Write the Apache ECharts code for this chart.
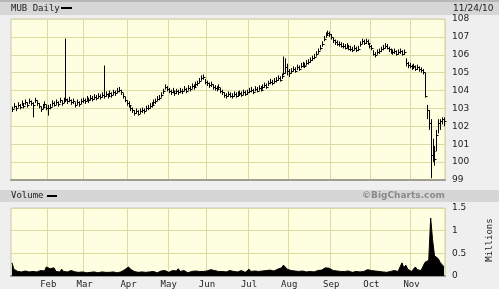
<!DOCTYPE html>
<html><head><meta charset="utf-8">
<script src="https://cdn.jsdelivr.net/npm/echarts@6/dist/echarts.min.js"></script>
<style>html,body{margin:0;padding:0;background:#efefef;}#c{width:499px;height:289px;}</style>
</head><body><div id="c"></div>
<script>
// ---- Data ----
const title = 'MUB Daily';
const dateText = '11/24/10';
const monthLabels = ['Jan','Feb','Mar','Apr','May','Jun','Jul','Aug','Sep','Oct','Nov'];
const startDate = '2010-01-04';
const endDate = '2010-11-24';
const holidays = ['2010-01-18','2010-02-15','2010-04-02','2010-05-31','2010-07-05','2010-09-06'];
const priceTicks = [99,100,101,102,103,104,105,106,107,108];
const volumeTicks = [0,0.5,1,1.5];

// rows: [low, high, close]
const pJan = [[102.8,103.1,102.95],[103.0,103.3,103.15],[102.85,103.15,103.0],[103.05,103.35,103.2],[102.95,103.25,103.1],[103.15,103.45,103.3],[103.0,103.3,103.15],[103.2,103.5,103.35],[103.05,103.35,103.2],[103.25,103.55,103.4],[103.15,103.45,103.3],[102.5,103.35,103.2],[103.3,103.6,103.45],[103.15,103.45,103.3],[103.0,103.3,103.15],[102.8,103.1,102.95],[102.95,103.25,103.1],[103.1,103.4,103.25],[102.9,103.2,103.05]];
const pFeb = [[102.6,103.2,103.05],[102.95,103.25,103.1],[103.1,103.45,103.3],[103.1,103.4,103.2],[103.2,103.5,103.35],[103.1,103.4,103.25],[103.3,103.6,103.45],[103.15,103.45,103.3],[103.3,103.6,103.45],[103.35,106.9,103.55],[103.25,103.55,103.4],[103.35,103.65,103.5],[103.2,103.5,103.35],[103.25,103.55,103.4],[103.05,103.35,103.2],[103.2,103.5,103.35],[103.1,103.4,103.25],[103.25,103.55,103.4],[103.3,103.6,103.45]];
const pMar = [[103.25,103.55,103.4],[103.4,103.7,103.55],[103.3,103.6,103.45],[103.45,103.75,103.6],[103.4,103.7,103.55],[103.5,103.8,103.65],[103.45,103.75,103.6],[103.55,103.85,103.7],[103.5,103.8,103.65],[103.6,103.9,103.75],[103.55,105.4,103.7],[103.65,103.95,103.8],[103.55,103.85,103.7],[103.7,104.0,103.85],[103.6,103.9,103.75],[103.75,104.05,103.9],[103.7,104.0,103.85],[103.85,104.15,104.0],[103.9,104.2,104.05],[103.75,104.05,103.9],[103.55,103.85,103.7],[103.35,103.65,103.5],[103.15,103.45,103.3]];
const pApr = [[103.05,103.4,103.2],[102.85,103.15,103.0],[102.75,103.05,102.9],[102.6,102.9,102.75],[102.7,103.0,102.85],[102.6,102.9,102.7],[102.7,103.0,102.85],[102.75,103.05,102.9],[102.7,103.0,102.85],[102.85,103.15,103.0],[102.9,103.2,103.05],[103.0,103.3,103.15],[103.05,103.35,103.2],[103.2,103.5,103.35],[103.25,103.55,103.4],[103.4,103.7,103.55],[103.45,103.75,103.6],[103.6,103.9,103.75],[103.8,104.1,103.95],[104.05,104.35,104.2],[103.95,104.25,104.1]];
const pMay = [[103.85,104.15,104.0],[103.75,104.05,103.9],[103.85,104.15,104.0],[103.7,104.0,103.85],[103.8,104.1,103.95],[103.75,104.05,103.9],[103.85,104.15,104.0],[103.8,104.1,103.95],[103.95,104.25,104.1],[103.85,104.15,104.0],[104.0,104.3,104.15],[103.95,104.25,104.1],[104.1,104.4,104.25],[104.05,104.35,104.2],[104.2,104.5,104.35],[104.25,104.55,104.4],[104.4,104.7,104.55],[104.55,104.85,104.7],[104.6,104.9,104.75],[104.35,104.65,104.5]];
const pJun = [[104.25,104.55,104.4],[104.15,104.45,104.3],[104.2,104.5,104.35],[104.05,104.35,104.2],[104.0,104.3,104.15],[103.95,104.25,104.1],[104.05,104.35,104.2],[103.85,104.15,104.0],[103.75,104.05,103.9],[103.6,103.9,103.75],[103.55,103.85,103.7],[103.65,103.95,103.8],[103.6,103.9,103.7],[103.55,103.85,103.7],[103.65,103.95,103.8],[103.6,103.9,103.7],[103.65,103.95,103.8],[103.7,104.0,103.85],[103.65,103.95,103.75],[103.75,104.05,103.9],[103.7,104.0,103.8],[103.75,104.05,103.9]];
const pJul = [[103.85,104.15,104.0],[103.9,104.2,104.05],[103.8,104.1,103.9],[103.95,104.25,104.1],[103.9,104.2,104.0],[104.0,104.3,104.15],[103.95,104.25,104.05],[104.05,104.35,104.2],[104.15,104.45,104.3],[104.1,104.4,104.2],[104.25,104.55,104.4],[104.35,104.65,104.5],[104.3,104.6,104.4],[104.4,104.7,104.55],[104.45,104.75,104.6],[104.55,104.85,104.7],[104.5,104.8,104.6],[104.65,104.95,104.8],[104.85,105.9,105.0],[104.95,105.8,105.3],[104.85,105.5,105.1]];
const pAug = [[104.75,105.2,105.0],[104.95,105.25,105.1],[105.05,105.35,105.2],[105.0,105.3,105.1],[105.15,105.45,105.3],[105.1,105.4,105.2],[105.25,105.55,105.4],[105.3,105.6,105.45],[105.25,105.55,105.35],[105.4,105.7,105.55],[105.45,105.75,105.6],[105.55,105.85,105.7],[105.65,105.95,105.8],[105.75,106.05,105.9],[105.9,106.2,106.05],[106.05,106.35,106.2],[106.25,106.55,106.4],[106.45,106.75,106.6],[106.75,107.05,106.9],[106.95,107.25,107.1],[107.05,107.35,107.2],[107.0,107.3,107.15]];
const pSep = [[106.85,107.15,107.0],[106.65,106.95,106.8],[106.55,106.85,106.7],[106.5,106.8,106.6],[106.45,106.75,106.6],[106.4,106.7,106.5],[106.35,106.65,106.5],[106.3,106.6,106.4],[106.35,106.65,106.5],[106.25,106.55,106.35],[106.2,106.5,106.35],[106.15,106.45,106.25],[106.25,106.55,106.4],[106.15,106.45,106.25],[106.2,106.5,106.35],[106.45,106.75,106.6],[106.6,106.9,106.75],[106.55,106.85,106.65],[106.6,106.9,106.75],[106.55,106.85,106.65],[106.35,106.65,106.5]];
const pOct = [[106.25,106.55,106.4],[105.95,106.25,106.05],[105.85,106.15,106.0],[106.0,106.3,106.15],[106.05,106.35,106.2],[106.15,106.45,106.3],[106.25,106.55,106.4],[106.35,106.65,106.5],[106.3,106.6,106.4],[106.15,106.45,106.3],[106.05,106.35,106.15],[106.0,106.3,106.15],[106.05,106.35,106.2],[105.95,106.25,106.05],[106.0,106.3,106.15],[106.05,106.35,106.2],[105.95,106.25,106.05],[106.0,106.3,106.15],[105.35,105.8,105.55],[105.25,105.6,105.45],[105.25,105.55,105.4]];
const pNov = [[105.15,105.45,105.3],[105.2,105.5,105.35],[105.1,105.4,105.2],[105.15,105.45,105.3],[105.05,105.35,105.2],[105.0,105.3,105.15],[104.9,105.2,105.05],[103.6,105.0,103.7],[102.4,103.2,102.9],[101.8,102.9,102.2],[99.1,102.4,100.4],[100.0,101.3,100.6],[99.8,100.9,100.2],[100.6,101.8,101.5],[101.6,102.4,102.2],[101.8,102.4,102.3],[102.1,102.5,102.4],[102.0,102.5,102.3]];

// volume in millions
const vJan = [0.29,0.15,0.12,0.1,0.14,0.09,0.1,0.11,0.08,0.09,0.12,0.1,0.08,0.09,0.1,0.12,0.09,0.11,0.2];
const vFeb = [0.24,0.16,0.12,0.18,0.1,0.11,0.09,0.15,0.1,0.14,0.09,0.08,0.12,0.1,0.09,0.13,0.08,0.1,0.09];
const vMar = [0.08,0.07,0.06,0.08,0.07,0.09,0.06,0.07,0.08,0.09,0.07,0.08,0.1,0.08,0.07,0.09,0.08,0.07,0.1,0.09,0.12,0.14,0.13];
const vApr = [0.2,0.15,0.12,0.1,0.09,0.08,0.1,0.09,0.11,0.08,0.07,0.09,0.08,0.1,0.08,0.07,0.09,0.11,0.1,0.12,0.09];
const vMay = [0.08,0.1,0.12,0.09,0.11,0.16,0.1,0.09,0.12,0.08,0.07,0.09,0.1,0.08,0.11,0.09,0.1,0.12,0.1,0.09];
const vJun = [0.11,0.09,0.14,0.1,0.12,0.09,0.1,0.08,0.1,0.11,0.09,0.1,0.12,0.09,0.1,0.08,0.09,0.1,0.12,0.09,0.08,0.1];
const vJul = [0.15,0.1,0.09,0.11,0.08,0.1,0.09,0.11,0.1,0.12,0.1,0.13,0.1,0.11,0.12,0.15,0.14,0.18,0.24,0.2,0.15];
const vAug = [0.14,0.12,0.1,0.11,0.12,0.1,0.09,0.11,0.1,0.09,0.12,0.1,0.11,0.09,0.1,0.12,0.14,0.13,0.15,0.18,0.22,0.17];
const vSep = [0.14,0.12,0.1,0.11,0.09,0.1,0.12,0.1,0.09,0.11,0.1,0.08,0.09,0.1,0.11,0.09,0.12,0.1,0.11,0.14,0.17];
const vOct = [0.12,0.1,0.11,0.09,0.1,0.08,0.09,0.1,0.08,0.09,0.1,0.08,0.12,0.15,0.1,0.2,0.29,0.18,0.24,0.15,0.12];
const vNov = [0.1,0.12,0.2,0.14,0.1,0.12,0.16,0.3,0.28,0.35,1.28,0.8,0.45,0.42,0.38,0.3,0.25,0.2];

// ---- Build ----
const priceRows = [].concat(pJan,pFeb,pMar,pApr,pMay,pJun,pJul,pAug,pSep,pOct,pNov);
const volume = [].concat(vJan,vFeb,vMar,vApr,vMay,vJun,vJul,vAug,vSep,vOct,vNov);

const dates = [];
(function(){
  let d = new Date(startDate + 'T00:00:00Z');
  const end = new Date(endDate + 'T00:00:00Z');
  while (d <= end) {
    const s = d.toISOString().slice(0,10);
    const wd = d.getUTCDay();
    if (wd !== 0 && wd !== 6 && holidays.indexOf(s) < 0) dates.push(s);
    d = new Date(d.getTime() + 86400000);
  }
})();
const monthStart = dates.map((s,i) => i > 0 && s.slice(5,7) !== dates[i-1].slice(5,7));
const priceData = priceRows.map((r,i) => [i, r[0], r[1], r[2]]);

const gridColor = '#dedaa4';
const plotBg = '#fefee1';
const axisFont = 'DejaVu Sans';
const monoFont = 'DejaVu Sans Mono';

const chart = echarts.init(document.getElementById('c'), null, {renderer:'canvas'});
chart.setOption({
  backgroundColor: '#efefef',
  animation: false,
  graphic: [
    {type:'rect', shape:{x:0,y:0,width:499,height:2}, style:{fill:'#b8b8b8'}, silent:true},
    {type:'rect', shape:{x:0,y:2,width:499,height:13}, style:{fill:'#d6d6d6'}, silent:true},
    {type:'text', x:11, y:9, style:{text:title, font:'9px "DejaVu Sans Mono"', fill:'#222', verticalAlign:'middle'}},
    {type:'rect', shape:{x:61,y:7,width:11,height:2}, style:{fill:'#000'}},
    {type:'text', x:453, y:9, style:{text:dateText, font:'9px "DejaVu Sans"', fill:'#222', verticalAlign:'middle'}},
    {type:'rect', shape:{x:0,y:190,width:499,height:12}, style:{fill:'#d6d6d6'}, silent:true},
    {type:'text', x:11, y:196, style:{text:'Volume', font:'9px "DejaVu Sans Mono"', fill:'#222', verticalAlign:'middle'}},
    {type:'rect', shape:{x:47,y:195,width:10,height:2}, style:{fill:'#000'}},
    {type:'text', x:445, y:196, style:{text:'\u00A9BigCharts.com', font:'bold 9px "DejaVu Sans"', fill:'#8a8a8a', align:'right', verticalAlign:'middle'}},
    {type:'text', x:490, y:240, rotation:Math.PI/2, style:{text:'Millions', font:'9px "DejaVu Sans Mono"', fill:'#222', align:'center', verticalAlign:'middle'}}
  ],
  grid: [
    {left:11, top:19, width:434, height:161, show:true, backgroundColor:plotBg, borderColor:'#c8c8b8', borderWidth:1},
    {left:11, top:208, width:434, height:68, show:true, backgroundColor:plotBg, borderColor:'#c8c8b8', borderWidth:1}
  ],
  xAxis: [
    {type:'category', gridIndex:0, data:dates, boundaryGap:true,
     axisLine:{show:true, lineStyle:{color:'#9e9e92', width:2}}, axisTick:{show:false}, axisLabel:{show:false},
     splitLine:{show:true, interval:(i)=>monthStart[i], lineStyle:{color:gridColor, width:1}}},
    {type:'category', gridIndex:1, data:dates, boundaryGap:true,
     axisLine:{show:true, lineStyle:{color:'#9e9e92', width:2}}, axisTick:{show:false},
     axisLabel:{show:true, interval:(i)=>monthStart[i], formatter:(v)=>monthLabels[parseInt(v.slice(5,7),10)-1],
       color:'#222', fontSize:9, fontFamily:monoFont, margin:4},
     splitLine:{show:true, interval:(i)=>monthStart[i], lineStyle:{color:gridColor, width:1}}}
  ],
  yAxis: [
    {type:'value', gridIndex:0, position:'right', min:priceTicks[0], max:priceTicks[priceTicks.length-1], interval:1,
     axisLine:{show:false}, axisTick:{show:false},
     axisLabel:{color:'#222', fontSize:9, fontFamily:axisFont, margin:7},
     splitLine:{show:true, lineStyle:{color:gridColor, width:1}}},
    {type:'value', gridIndex:1, position:'right', min:volumeTicks[0], max:volumeTicks[volumeTicks.length-1], interval:0.5,
     axisLine:{show:false}, axisTick:{show:false},
     axisLabel:{color:'#222', fontSize:9, fontFamily:axisFont, margin:7, formatter:(v)=>String(v)},
     splitLine:{show:true, lineStyle:{color:gridColor, width:1}}}
  ],
  series: [
    {type:'custom', xAxisIndex:0, yAxisIndex:0, data:priceData, encode:{x:0, y:[1,2,3]},
     renderItem:function(params, api){
       const i = api.value(0);
       const lo = api.coord([i, api.value(1)]);
       const hi = api.coord([i, api.value(2)]);
       const cl = api.coord([i, api.value(3)]);
       const x = Math.round(lo[0]) + 0.5;
       let y1 = hi[1], y2 = lo[1];
       if (y2 - y1 < 1) { y2 = y1 + 1; }
       const cy = Math.round(cl[1]) + 0.5;
       return {type:'group', children:[
         {type:'line', shape:{x1:x, y1:y1, x2:x, y2:y2}, style:{stroke:'#000', lineWidth:1}},
         {type:'line', shape:{x1:x, y1:cy, x2:x+2, y2:cy}, style:{stroke:'#000', lineWidth:1}}
       ]};
     }},
    {type:'line', xAxisIndex:1, yAxisIndex:1, data:volume, symbol:'none', smooth:false,
     lineStyle:{color:'#000', width:1}, areaStyle:{color:'#000', opacity:1}}
  ]
});
</script>
</body></html>
